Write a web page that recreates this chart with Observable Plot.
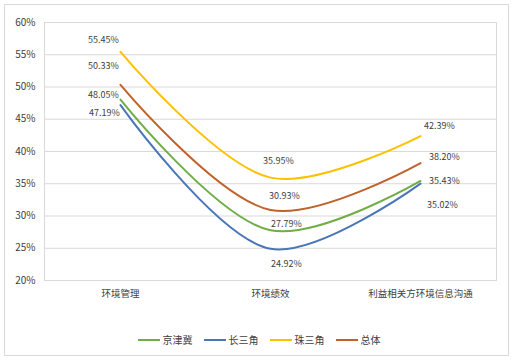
<!DOCTYPE html>
<html>
<head>
<meta charset="utf-8">
<script src="https://cdn.jsdelivr.net/npm/d3@7"></script>
<script src="https://cdn.jsdelivr.net/npm/@observablehq/plot@0.6"></script>
<style>
  body { margin: 0; background: #fff; font-family: "Noto Sans CJK SC", "Noto Sans", sans-serif; }
  #wrap { position: relative; width: 518px; height: 362px; }
  #frame { position: absolute; left: 4px; top: 4px; width: 505px; height: 352px; border: 1px solid #d9d9d9; box-sizing: border-box; pointer-events: none; }
  #legend { position: absolute; left: 0; top: 332px; width: 518px; display: flex; justify-content: center; gap: 11px; font-size: 10px; color: #404040; }
  .item { display: flex; align-items: center; gap: 3px; }
  .sw { width: 22px; height: 2px; }
</style>
</head>
<body>
<div id="wrap"><div id="chart"></div><div id="frame"></div><div id="legend"></div></div>
<script>
const categories = ["环境管理", "环境绩效", "利益相关方环境信息沟通"];
const seriesNames = ["京津冀", "长三角", "珠三角", "总体"];
const jingjinji = [48.05, 27.79, 35.43];
const changsanjiao = [47.19, 24.92, 35.02];
const zhusanjiao = [55.45, 35.95, 42.39];
const zongti = [50.33, 30.93, 38.20];
const yTicks = [20, 25, 30, 35, 40, 45, 50, 55, 60];

const colors = ["#70ad47", "#4a76b8", "#ffc000", "#c0622a"];
const seriesValues = [jingjinji, changsanjiao, zhusanjiao, zongti];
// label offsets (layout only)
const labelOffsets = {
  "京津冀": [[-17, -4], [16, -6], [24, 0]],
  "长三角": [[-16, 8], [16, 15], [22, 21]],
  "珠三角": [[-17, -12], [8, -17], [19, -10]],
  "总体": [[-17, -19], [14, -14], [24, -6]]
};

const rows = [];
seriesNames.forEach((s, si) => {
  categories.forEach((c, ci) => {
    rows.push({series: s, cat: c, value: seriesValues[si][ci], ci});
  });
});

const textMarks = [];
seriesNames.forEach(s => {
  [0, 1, 2].forEach(ci => {
    const [dx, dy] = labelOffsets[s][ci];
    textMarks.push(Plot.text(rows.filter(d => d.series === s && d.ci === ci), {
      x: "cat", y: "value", text: d => d.value.toFixed(2) + "%",
      dx, dy, fontSize: 9, fill: "#404040"
    }));
  });
});

const chart = Plot.plot({
  width: 518,
  height: 362,
  marginLeft: 44,
  marginRight: 22,
  marginTop: 22,
  marginBottom: 82,
  style: { fontFamily: "'Noto Sans CJK SC', 'Noto Sans', sans-serif", background: "#fff" },
  x: { type: "point", domain: categories, padding: 0.5, label: null },
  y: { domain: [20, 60], ticks: yTicks, label: null },
  color: { domain: seriesNames, range: colors },
  marks: [
    Plot.gridY(yTicks, { stroke: "#d9d9d9", strokeOpacity: 1 }),
    Plot.frame({ stroke: "#d9d9d9" }),
    Plot.axisY(yTicks, { tickSize: 0, tickPadding: 9, tickFormat: d => d + "%", fontSize: 10, fill: "#404040" }),
    Plot.axisX(categories, { tickSize: 0, tickPadding: 10, fontSize: 9.5, fill: "#404040" }),
    Plot.line(rows, { x: "cat", y: "value", z: "series", stroke: "series", strokeWidth: 2, curve: "catmull-rom" }),
    ...textMarks
  ]
});
document.getElementById("chart").appendChild(chart);

const legend = document.getElementById("legend");
seriesNames.forEach((s, i) => {
  const it = document.createElement("div");
  it.className = "item";
  const sw = document.createElement("div");
  sw.className = "sw";
  sw.style.background = colors[i];
  const t = document.createElement("span");
  t.textContent = s;
  it.appendChild(sw); it.appendChild(t);
  legend.appendChild(it);
});
</script>
</body>
</html>
